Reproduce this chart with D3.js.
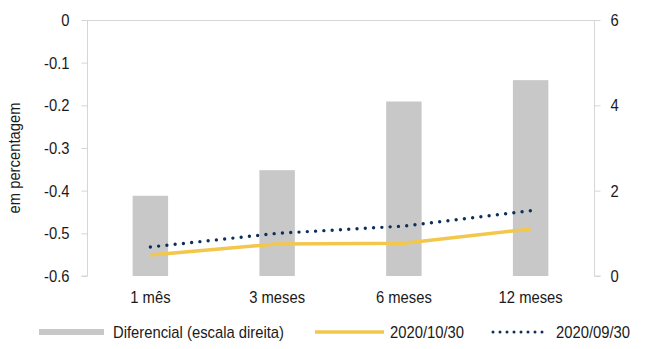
<!DOCTYPE html>
<html>
<head>
<meta charset="utf-8">
<script src="https://cdn.jsdelivr.net/npm/d3@7"></script>
<style>
  html, body { margin: 0; padding: 0; background: #fff; }
  svg { display: block; }
  text { font-family: "Liberation Sans", Arial, sans-serif; fill: #1a1a1a; }
</style>
</head>
<body>
<svg id="chart" width="646" height="349"></svg>
<script>
// ---- data ----
const categories = ["1 mês", "3 meses", "6 meses", "12 meses"];
const diferencial = [1.88, 2.48, 4.09, 4.59];          // right axis (bars)
const serieOct = [-0.551, -0.525, -0.523, -0.490];      // 2020/10/30
const serieSep = [-0.532, -0.500, -0.483, -0.447];      // 2020/09/30
const leftTicks = [0, -0.1, -0.2, -0.3, -0.4, -0.5, -0.6];
const leftTickLabels = ["0", "-0.1", "-0.2", "-0.3", "-0.4", "-0.5", "-0.6"];
const rightTicks = [0, 2, 4, 6];
const rightTickLabels = ["0", "2", "4", "6"];
const legendLabels = ["Diferencial (escala direita)", "2020/10/30", "2020/09/30"];
const yAxisTitle = "em percentagem";

// ---- layout ----
const svg = d3.select("#chart");
const mLeft = 87, mRight = 594, mTop = 20, mBottom = 276;
const fontSize = 17;
const narrow = 0.87;
const axisColor = "#d6d6d6";
const barColor = "#c8c8c8";
const octColor = "#f3c74c";
const sepColor = "#0c2f5c";

const x = d3.scaleBand().domain(categories).range([mLeft, mRight]).paddingInner(0.72).paddingOuter(0.36);
const yL = d3.scaleLinear().domain([-0.6, 0]).range([mBottom, mTop]);
const yR = d3.scaleLinear().domain([0, 6]).range([mBottom, mTop]);

// bars
svg.append("g").selectAll("rect").data(categories).join("rect")
  .attr("x", d => x(d))
  .attr("y", (d, i) => yR(diferencial[i]))
  .attr("width", x.bandwidth())
  .attr("height", (d, i) => yR(0) - yR(diferencial[i]))
  .attr("fill", barColor);

// top border
svg.append("line").attr("x1", mLeft).attr("x2", mRight).attr("y1", mTop + 0.5).attr("y2", mTop + 0.5)
  .attr("stroke", axisColor).attr("stroke-width", 1);

// left axis
const axL = d3.axisLeft(yL).tickValues(leftTicks).tickSize(6)
  .tickFormat((d, i) => leftTickLabels[i]).tickPadding(12);
const gL = svg.append("g").attr("transform", `translate(${mLeft + 0.5},0)`).call(axL);
gL.select(".domain").attr("stroke", axisColor).attr("d", `M-6,${mBottom}H0V${mTop}`);
gL.selectAll(".tick line").attr("stroke", axisColor);
gL.selectAll("text").attr("font-size", fontSize).attr("font-family", null).attr("fill", "#1a1a1a");

// right axis
const axR = d3.axisRight(yR).tickValues(rightTicks).tickSize(6)
  .tickFormat((d, i) => rightTickLabels[i]).tickPadding(10);
const gR = svg.append("g").attr("transform", `translate(${mRight + 0.5},0)`).call(axR);
gR.select(".domain").attr("stroke", axisColor).attr("d", `M6,${mBottom}H0V${mTop}`);
gR.selectAll(".tick line").attr("stroke", axisColor);
gR.selectAll("text").attr("font-size", fontSize).attr("font-family", null).attr("fill", "#1a1a1a");

// category labels
const axX = d3.axisBottom(x).tickSize(0).tickPadding(15);
const gX = svg.append("g").attr("transform", `translate(0,${mBottom})`).call(axX);
gX.select(".domain").remove();
gX.selectAll("text").attr("font-size", fontSize).attr("font-family", null).attr("fill", "#1a1a1a");

// lines
const cx = d => x(d) + x.bandwidth() / 2;
const lineGen = d3.line().x((d, i) => cx(categories[i])).y(d => yL(d));
svg.append("path").datum(serieOct).attr("d", lineGen)
  .attr("fill", "none").attr("stroke", octColor).attr("stroke-width", 3.5);
svg.append("path").datum(serieSep).attr("d", lineGen)
  .attr("fill", "none").attr("stroke", sepColor).attr("stroke-width", 3.4)
  .attr("stroke-linecap", "round").attr("stroke-dasharray", "0 8.3");

// y-axis title
svg.append("text").attr("transform", "translate(20,158) rotate(-90)")
  .attr("text-anchor", "middle").attr("font-size", fontSize).text(yAxisTitle);

// legend
const ly = 332;
const lg = svg.append("g");
lg.append("rect").attr("x", 39).attr("y", ly - 3).attr("width", 65).attr("height", 6).attr("fill", barColor);
lg.append("text").attr("x", 113).attr("y", ly).attr("dy", "0.35em").attr("font-size", fontSize).text(legendLabels[0]);
lg.append("line").attr("x1", 315).attr("x2", 384).attr("y1", ly).attr("y2", ly)
  .attr("stroke", octColor).attr("stroke-width", 3.5);
lg.append("text").attr("x", 390).attr("y", ly).attr("dy", "0.35em").attr("font-size", fontSize).text(legendLabels[1]);
lg.append("line").attr("x1", 493).attr("x2", 549).attr("y1", ly).attr("y2", ly)
  .attr("stroke", sepColor).attr("stroke-width", 3).attr("stroke-linecap", "round").attr("stroke-dasharray", "0 7");
lg.append("text").attr("x", 556).attr("y", ly).attr("dy", "0.35em").attr("font-size", fontSize).text(legendLabels[2]);

// emulate a narrow font face by condensing glyphs horizontally
svg.selectAll("text").each(function () {
  const len = this.getComputedTextLength();
  if (len > 0) {
    this.setAttribute("textLength", (len * narrow).toFixed(2));
    this.setAttribute("lengthAdjust", "spacingAndGlyphs");
  }
});
</script>
</body>
</html>
